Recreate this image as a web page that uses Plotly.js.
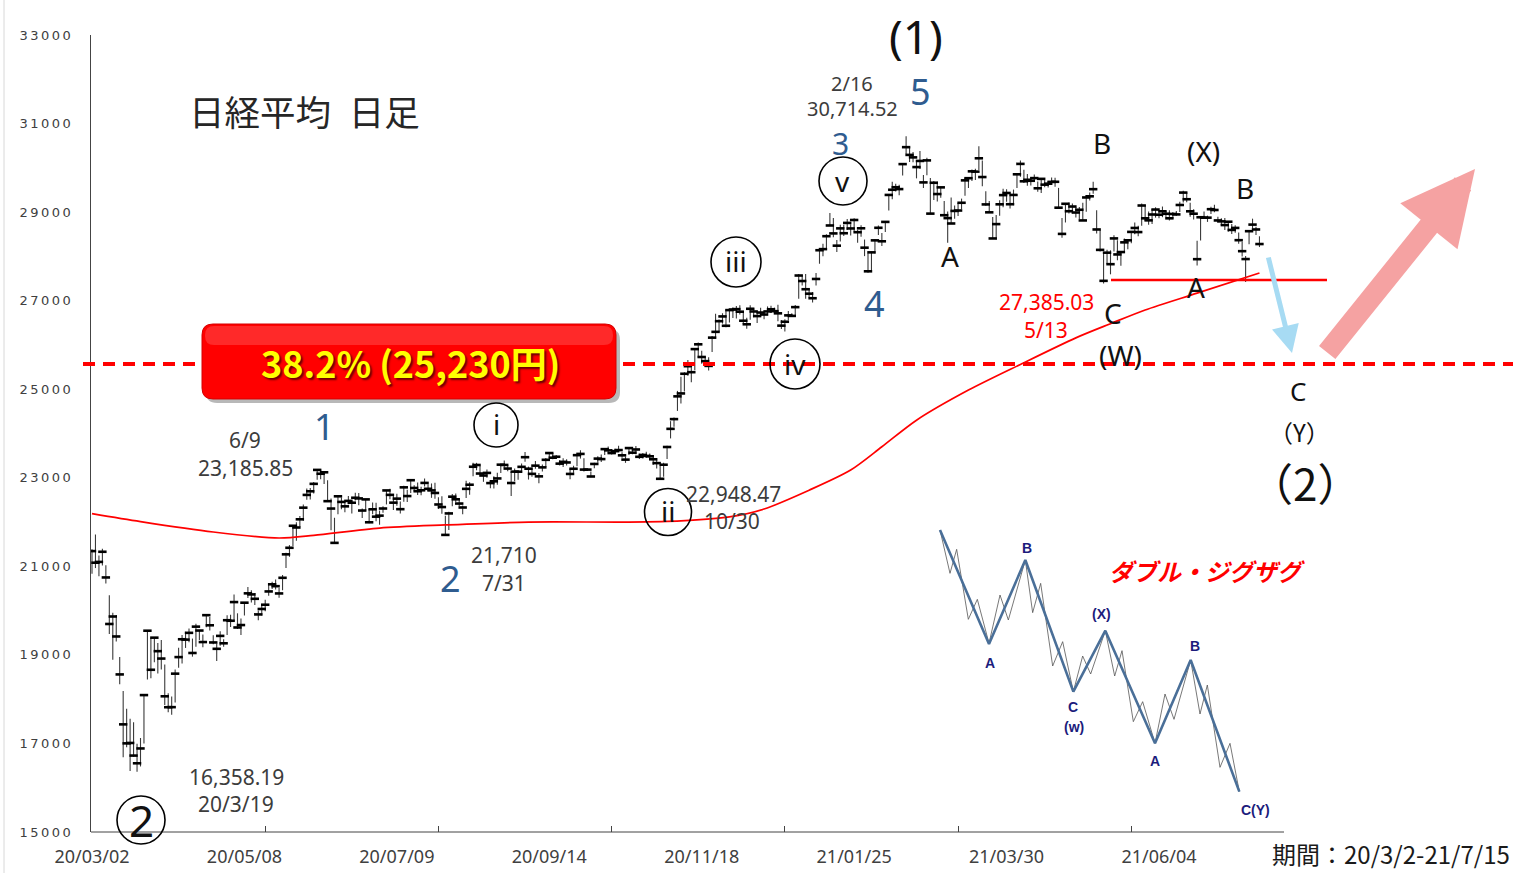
<!DOCTYPE html>
<html>
<head>
<meta charset="utf-8">
<script src="https://cdn.plot.ly/plotly-3.0.1.min.js"></script>
<style>
  html,body{margin:0;padding:0;background:#fff;}
  #chart{width:1515px;height:873px;}
  .ytick text{letter-spacing:2.5px;}
</style>
</head>
<body>
<div id="chart"></div>
<script>
// ---------------- DATA ----------------
// Trading days per month (day numbers)
const monthKeys = ["2020-03","2020-04","2020-05","2020-06","2020-07","2020-08","2020-09","2020-10","2020-11","2020-12",
                   "2021-01","2021-02","2021-03","2021-04","2021-05","2021-06","2021-07"];
const monthDays = [
 [2,3,4,5,6,9,10,11,12,13,16,17,18,19,23,24,25,26,27,30,31],
 [1,2,3,6,7,8,9,10,13,14,15,16,17,20,21,22,23,24,27,28,30],
 [1,7,8,11,12,13,14,15,18,19,20,21,22,25,26,27,28,29],
 [1,2,3,4,5,8,9,10,11,12,15,16,17,18,19,22,23,24,25,26,29,30],
 [1,2,3,6,7,8,9,10,13,14,15,16,17,20,21,22,27,28,29,30,31],
 [3,4,5,6,7,11,12,13,14,17,18,19,20,21,24,25,26,27,28,31],
 [1,2,3,4,7,8,9,10,11,14,15,16,17,18,23,24,25,28,29,30],
 [1,2,5,6,7,8,9,12,13,14,15,16,19,20,21,22,23,26,27,28,29,30],
 [2,4,5,6,9,10,11,12,13,16,17,18,19,20,24,25,26,27,30],
 [1,2,3,4,7,8,9,10,11,14,15,16,17,18,21,22,23,24,25,28,29,30],
 [4,5,6,7,8,12,13,14,15,18,19,20,21,22,25,26,27,28,29],
 [1,2,3,4,5,8,9,10,12,15,16,17,18,19,22,24,25,26],
 [1,2,3,4,5,8,9,10,11,12,15,16,17,18,19,22,23,24,25,26,29,30,31],
 [1,2,5,6,7,8,9,12,13,14,15,16,19,20,21,22,23,26,27,28,30],
 [6,7,10,11,12,13,14,17,18,19,20,21,24,25,26,27,28,31],
 [1,2,3,4,7,8,9,10,11,14,15,16,17,18,21,22,23,24,25,28,29,30],
 [1,2,5,6,7,8,9,12,13,14,15]
];

const closes = [
 21344,21082,21100,21329,20749,19698,19867,19416,18559,17431,17002,17011,16726,16552,16887,18092,19546,18664,19389,19084,18917,
 18065,17818,17820,18576,18950,19353,19345,19498,19043,19638,19550,19290,19897,19669,19281,19137,19429,19262,19783,19771,20193,
 19619,19674,20179,20390,20366,20267,19914,20037,20133,20433,20595,20552,20388,20741,21271,21419,21916,21877,
 22062,22325,22613,22695,22863,23178,23091,23124,22472,22305,21530,22582,22455,22355,22478,22437,22549,22534,22260,22512,21995,22288,
 22122,22145,22306,22714,22614,22438,22529,22291,22784,22587,22945,22770,22696,22717,22884,22751,22715,22657,22397,22339,21710,
 22195,22573,22514,22418,22329,22750,22843,23249,23289,23096,23051,23110,22880,22920,22985,23296,23290,23208,22882,23139,
 23138,23247,23465,23205,23089,23274,23032,23235,23406,23559,23454,23475,23319,23360,23346,23087,23204,23511,23539,23185,
 23185,23029,23312,23433,23422,23647,23619,23558,23601,23626,23507,23410,23671,23567,23639,23474,23516,23494,23485,23418,23331,22977,
 23295,23695,24105,24325,24839,24905,25349,25520,25385,25906,26014,25728,25634,25527,26165,26296,26537,26644,26433,
 26787,26800,26809,26751,26547,26467,26817,26756,26652,26732,26687,26757,26806,26763,26714,26436,26524,26668,26656,26854,27568,27444,
 27258,27158,27055,27490,28139,28164,28456,28698,28519,28242,28633,28523,28756,28631,28822,28546,28635,28197,27663,
 28091,28362,28646,28341,28779,29388,29505,29562,29520,30084,30467,30292,30236,30017,30156,29671,30168,28966,
 29663,29408,29559,28930,28864,28743,29027,29036,29211,29717,29766,29921,29914,30216,29792,29174,28995,28405,28729,29176,29384,29432,29178,
 29388,29854,30089,29696,29730,29708,29768,29538,29751,29620,29642,29683,29685,29100,28508,29188,29020,29126,28991,29053,28812,
 29331,29357,29518,28608,28147,27448,28084,27824,28406,28044,28098,28317,28364,28553,28642,28549,29149,28860,
 28814,28946,29058,28941,29019,28963,28860,28958,28948,29161,29441,29291,29018,28964,27937,28884,28874,28875,29066,29048,28812,28791,
 28707,28783,28598,28643,28366,28118,27940,28569,28718,28608,28279
];
const highs = [
 21383,21719,21245,21399,21025,20347,19954,19899,18950,18184,17785,17557,17481,16995,17123,18100,19564,19389,19389,19266,19336,
 18784,18132,18059,18672,19162,19452,19522,19597,19368,19706,19559,19458,19922,19858,19444,19259,19532,19352,19894,19907,20365,
 19939,19822,20180,20534,20459,20400,20001,20143,20247,20588,20650,20701,20517,20805,21307,21480,21929,21993,
 22138,22398,22757,22770,22907,23179,23186,23145,22946,22532,22097,22582,22552,22444,22590,22488,22663,22655,22307,22523,22296,22442,
 22437,22258,22359,22724,22752,22597,22639,22467,22821,22727,22963,22831,22893,22798,22985,22853,22872,22885,22560,22584,22140,
 22232,22635,22646,22502,22376,22932,22898,23338,23338,23269,23097,23188,22940,23035,23112,23302,23391,23284,23128,23207,
 23160,23321,23580,23252,23231,23380,23108,23299,23448,23582,23562,23513,23394,23442,23417,23208,23272,23525,23622,23441,
 23185,23139,23342,23486,23527,23674,23706,23644,23654,23725,23579,23481,23696,23675,23718,23541,23558,23590,23549,23485,23407,23274,
 23341,23725,24279,24363,24962,25279,25386,25662,25496,25907,26057,25868,25732,25722,26204,26706,26572,26716,26800,
 26787,26843,26880,26894,26743,26612,26894,26830,26763,26839,26726,26870,26884,26843,26905,26565,26580,26764,26715,26903,27602,27572,
 27602,27279,27196,27624,28139,28287,28498,28979,28867,28371,28712,28712,28846,28725,28860,28599,28701,28380,28073,
 28107,28385,28699,28530,28779,29388,29685,29640,29620,30092,30714,30467,30359,30169,30379,29837,30229,29769,
 29700,29685,29559,29253,29012,29329,29151,29208,29305,29773,29781,29965,29979,30485,30166,29470,29250,28890,28932,29267,29525,29514,29370,
 29509,29863,30167,29955,29859,29779,29848,29693,29755,29727,29702,29783,29778,29547,28869,29195,29215,29197,29115,29114,29210,
 29387,29443,29685,29040,28599,28100,28150,28138,28477,28367,28110,28405,28390,28575,28767,28690,29197,29169,
 29016,29072,29109,29040,29126,29024,29043,29004,29026,29234,29480,29442,29210,29067,28353,28889,29013,28920,29119,29165,28895,28864,
 28868,28783,28731,28701,28537,28332,28011,28569,28852,28671,28454
];
const lows = [
 20834,20961,20776,21020,20613,19474,18891,19300,18339,16690,16914,16378,16698,16358,16480,17000,18446,18472,18832,18578,18668,
 17871,17707,17646,17923,18709,18807,19157,19286,18960,19183,19336,19172,19625,19550,19242,18864,19205,19182,19451,19630,19747,
 19584,19448,19888,20283,20186,20128,19785,19887,19984,20335,20489,20477,20288,20460,20960,21215,21460,21575,
 21892,22029,22504,22508,22645,22958,22967,22860,22472,21813,21530,22177,22289,22223,22400,22195,22487,22381,22094,22253,21975,22177,
 22021,21940,22211,22398,22517,22272,22370,22194,22457,22454,22659,22692,22611,22607,22802,22699,22547,22528,22294,22190,21710,
 21821,22358,22454,22359,22175,22542,22616,23034,23169,23058,22909,22998,22762,22759,22844,23106,23227,23146,22587,22922,
 22953,23116,23362,22960,23021,23202,22878,23139,23250,23445,23420,23440,23277,23246,23275,22967,23111,23259,23434,23141,
 23185,23010,23213,23341,23355,23516,23569,23528,23535,23587,23451,23337,23515,23532,23531,23426,23435,23454,23434,23289,23210,22948,
 23024,23422,23889,24152,24510,24680,24951,25306,25155,25429,25713,25577,25505,25425,25839,26146,26298,26482,26402,
 26508,26606,26598,26688,26475,26365,26568,26627,26495,26636,26581,26701,26720,26718,26533,26362,26304,26557,26638,26664,27043,27340,
 27042,27073,26961,27340,27834,28004,28178,28695,28432,28099,28336,28459,28596,28469,28563,28309,28442,28006,27629,
 27692,28064,28485,28233,28550,29038,29292,29465,29378,29827,30312,30129,30128,29762,29973,29542,29835,28966,
 29276,29238,29325,28899,28308,28740,28851,28912,29064,29368,29544,29700,29726,29952,29586,29144,28984,28405,28379,28918,29108,29235,29084,
 29156,29543,29798,29655,29598,29601,29683,29462,29431,29564,29557,29613,29573,29096,28419,28766,28969,28976,28879,28837,28812,
 29010,29261,29415,28515,28110,27385,27830,27595,28109,27912,27789,28117,28163,28299,28501,28456,28690,28805,
 28715,28732,28875,28859,28885,28887,28812,28850,28915,29000,29217,29222,28898,28833,27795,28361,28850,28779,28958,28998,28771,28705,
 28595,28557,28503,28535,28283,27996,27419,28275,28627,28481,28211
];

// Moving average (red line)
const maDates = ["2020-03-02","2020-03-23","2020-04-21","2020-05-22","2020-06-05","2020-07-02","2020-07-31","2020-09-04",
  "2020-10-19","2020-11-10","2020-12-01","2020-12-15","2021-01-05","2021-01-22","2021-02-04","2021-02-19","2021-03-15",
  "2021-04-05","2021-04-27","2021-05-17","2021-05-31","2021-06-21","2021-07-15"];
const maValues = [22190,22010,21775,21640,21700,21865,21935,22000,
  22000,22025,22115,22295,22720,23175,23700,24300,24980,
  25560,26160,26480,26790,27170,27625];

// x-axis labels
const tickDates  = ["2020-03-02","2020-05-08","2020-07-09","2020-09-14","2020-11-18","2021-01-25","2021-03-30","2021-06-04"];
const tickLabels = ["20/03/02","20/05/08","20/07/09","20/09/14","20/11/18","21/01/25","21/03/30","21/06/04"];
const minorTickEvery = 50;   // trading days between tick marks
const yTicks = [15000,17000,19000,21000,23000,25000,27000,29000,31000,33000];

// Inset "double zigzag" illustration (local units)
const zzMainX = [60,207,316,460,556,705,812,958];
const zzMainY = [30,372,120,515,332,670,420,815];
const zzSubX = [60,90,110,145,172,207,240,265,316,338,362,398,428,460,488,512,556,584,606,640,668,705,735,762,812,840,862,900,930,958];
const zzSubY = [30,160,88,298,238,370,225,300,120,278,190,438,365,515,408,462,332,468,392,605,545,670,522,598,420,582,495,742,670,815];
const zzLabels = ["A","B","C","(w)","(X)","A","B","C(Y)"];
const zzLabelX = [210,322,460,462,543,705,825,1007];
const zzLabelY = [430,85,562,622,283,722,377,870];

// ---------------- BUILD ----------------
const dates = [];
monthKeys.forEach((m,i)=>monthDays[i].forEach(d=>dates.push(m+"-"+String(d).padStart(2,"0"))));
const idx = dates.map((d,i)=>i);

// plot geometry (px)
const L=91, T=35, W=1424, H=797;
const PXD = 1067/308;  // pixels per trading day
const PX = px => (px-L)/W;
const PY = py => (T+H-py)/H;
const FONT = "Noto Sans, Noto Sans CJK JP, sans-serif";
const CJK = "Noto Sans CJK JP, Noto Sans, sans-serif";

const traces = [
 {
  type:"scatter", mode:"markers", x:idx, y:closes, xaxis:"x", yaxis:"y",
  marker:{symbol:"line-ew", size:6, line:{width:2.6, color:"#000"}},
  error_y:{type:"data", symmetric:false,
    array: highs.map((h,i)=>h-closes[i]),
    arrayminus: lows.map((l,i)=>closes[i]-l),
    color:"#3a3a3a", thickness:1.1, width:0},
  hoverinfo:"skip", showlegend:false
 },
 {
  type:"scatter", mode:"lines", x:maDates.map(d=>dates.indexOf(d)), y:maValues,
  line:{color:"#ff0000", width:1.7, shape:"spline", smoothing:0.8},
  hoverinfo:"skip", showlegend:false
 },
 {
  type:"scatter", mode:"lines", x:zzSubX, y:zzSubY, xaxis:"x2", yaxis:"y2",
  line:{color:"#555", width:0.8}, hoverinfo:"skip", showlegend:false
 },
 {
  type:"scatter", mode:"lines", x:zzMainX, y:zzMainY, xaxis:"x2", yaxis:"y2",
  line:{color:"#4a6f98", width:2.6}, hoverinfo:"skip", showlegend:false
 }
];

function txt(text, px, py, size, color, opts){
  return Object.assign({text:text, xref:"paper", yref:"paper", x:PX(px), y:PY(py),
    xanchor:"center", yanchor:"middle", showarrow:false, borderpad:0,
    font:{family:FONT, size:size, color:color}}, opts||{});
}
const DARK="#3c3c3c", BLUE="#2f5c8f", BLK="#111";
const annotations = [
  txt("日経平均\u2002日足", 304, 110, 35.5, "#262626", {font:{family:CJK,size:35.5,color:"#262626"}}),
  txt("(1)", 916, 36, 46, BLK),
  txt("2/16", 852, 83, 20, DARK),
  txt("30,714.52", 852, 108, 20, DARK),
  txt("5", 921, 91, 36, BLUE),
  txt("3", 840, 143, 30, BLUE),
  txt("4", 874, 303, 36, BLUE),
  txt("1", 324, 427, 36, BLUE),
  txt("2", 450, 578, 36, BLUE),
  txt("v", 843, 181, 28, BLK),
  txt("iii", 736, 261, 28, BLK),
  txt("iv", 795, 364, 28, BLK),
  txt("i", 496, 424, 28, BLK),
  txt("ii", 668, 511, 28, BLK),
  txt("2", 141, 820, 44, BLK),
  txt("A", 950, 256, 28, BLK),
  txt("B", 1102, 143, 28, BLK),
  txt("(X)", 1203, 151, 28, BLK),
  txt("B", 1245, 188, 28, BLK),
  txt("A", 1196, 287, 28, BLK),
  txt("C", 1113, 313, 28, BLK),
  txt("(W)", 1120, 355, 28, BLK),
  txt("C", 1298, 391, 26, BLK),
  txt("（Y）", 1299, 432, 24, BLK, {font:{family:CJK,size:24,color:BLK}}),
  txt("（2）", 1305, 482, 44, BLK, {font:{family:CJK,size:44,color:BLK}}),
  txt("27,385.03", 1046, 302, 21, "#ff0000"),
  txt("5/13", 1046, 330, 21, "#ff0000"),
  txt("6/9", 245, 440, 21, DARK),
  txt("23,185.85", 245, 468, 21, DARK),
  txt("21,710", 504, 555, 21, DARK),
  txt("7/31", 504, 583, 21, DARK),
  txt("22,948.47", 733, 494, 21, DARK),
  txt("10/30", 732, 521, 21, DARK),
  txt("16,358.19", 236, 777, 21, DARK),
  txt("20/3/19", 236, 804, 21, DARK),
  txt("期間：20/3/2-21/7/15", 1511, 854, 24, "#1a1a1a", {xanchor:"right", font:{family:CJK,size:24,color:"#1a1a1a"}}),
  txt("38.2% (25,230円)", 410, 362, 36, "#ffff00",
      {font:{family:CJK,size:36,color:"#ffff00",weight:"bold",shadow:"2px 2px 2px rgba(80,0,0,0.85)"}}),
  // arrows
  {xref:"paper", yref:"paper", x:PX(1292), y:PY(353), ax:1268-1292, ay:256-353, axref:"pixel", ayref:"pixel",
   text:"", showarrow:true, arrowhead:2, arrowsize:1.1, arrowwidth:5, arrowcolor:"#a7dbf3", standoff:0},
  {xref:"paper", yref:"paper", x:PX(1475), y:PY(169), ax:1326-1475, ay:354-169, axref:"pixel", ayref:"pixel",
   text:"", showarrow:true, arrowhead:2, arrowsize:0.7, arrowwidth:21, arrowcolor:"#f5a2a2", standoff:0},
  // inset title
  {xref:"x2", yref:"y2", x:862, y:150, text:"<i>ダブル・ジグザグ</i>", showarrow:false, xanchor:"center", yanchor:"middle",
   font:{family:CJK, size:24, color:"#ff0000", weight:"bold"}}
];
zzLabels.forEach((t,i)=>annotations.push({xref:"x2", yref:"y2", x:zzLabelX[i], y:zzLabelY[i], text:"<b>"+t+"</b>",
  showarrow:false, xanchor:"center", yanchor:"middle", font:{family:"Liberation Sans, Arial, sans-serif", size:14, color:"#1c1c7c"}}));

function circ(cx, cy, r){
  return {type:"circle", xref:"paper", yref:"paper", x0:PX(cx-r), x1:PX(cx+r), y0:PY(cy+r), y1:PY(cy-r),
          line:{color:"#000", width:1.6}, fillcolor:"rgba(0,0,0,0)"};
}
function roundRect(x0,y0,x1,y1,r){
  const p=(x,y)=>PX(x).toFixed(5)+","+PY(y).toFixed(5);
  return "M"+p(x0+r,y0)+" L"+p(x1-r,y0)+" Q"+p(x1,y0)+" "+p(x1,y0+r)+" L"+p(x1,y1-r)+" Q"+p(x1,y1)+" "+p(x1-r,y1)+
         " L"+p(x0+r,y1)+" Q"+p(x0,y1)+" "+p(x0,y1-r)+" L"+p(x0,y0+r)+" Q"+p(x0,y0)+" "+p(x0+r,y0)+" Z";
}
const shapes = [
  // faint image frame line on the left
  {type:"line", xref:"paper", yref:"paper", x0:PX(4), x1:PX(4), y0:PY(873), y1:PY(0), line:{color:"#d8d8d8", width:1}},
  // x axis line
  {type:"line", xref:"paper", yref:"paper", x0:0, x1:PX(1284), y0:0, y1:0, line:{color:"#444", width:1}},
  // 38.2% retracement dashed line
  {type:"line", xref:"paper", yref:"paper", x0:PX(83), x1:PX(1513), y0:PY(364), y1:PY(364),
   line:{color:"#ff0000", width:4, dash:"12px,8px"}},
  // support line at 5/13 low
  {type:"line", xref:"paper", yref:"paper", x0:PX(1111), x1:PX(1327), y0:PY(280), y1:PY(280),
   line:{color:"#ff0000", width:2.6}},
  circ(843,181,24), circ(736,262,25), circ(795,364,25), circ(496,425,22), circ(668,512,23.5), circ(141,820,24),
  // red label box (shadow + box)
  {type:"path", xref:"paper", yref:"paper", path:roundRect(206,329,620,403,11), fillcolor:"rgba(0,0,0,0.28)", line:{width:0}},
  {type:"path", xref:"paper", yref:"paper", path:roundRect(202,324,616,399,11), fillcolor:"#ff0000", line:{color:"#d40000", width:1}},
  {type:"path", xref:"paper", yref:"paper", path:roundRect(205,326,613,345,9), fillcolor:"rgba(255,90,90,0.45)", line:{width:0}}
];

const layout = {
  width:1515, height:873,
  margin:{l:L, r:1515-L-W, t:T, b:873-T-H, pad:0},
  paper_bgcolor:"#ffffff", plot_bgcolor:"rgba(0,0,0,0)",
  showlegend:false, hovermode:false,
  xaxis:{
    range:[(L-92)/PXD, (L+W-92)/PXD], showgrid:false, zeroline:false, showline:false, automargin:false,
    tickmode:"array", tickvals:tickDates.map(d=>dates.indexOf(d)), ticktext:tickLabels, ticks:"",
    ticklabelstandoff:12,
    tickfont:{family:FONT, size:18, color:"#404040"},
    minor:{tickmode:"array", tickvals:idx.filter(i=>i>0 && i%minorTickEvery===0), ticks:"inside", ticklen:6, tickwidth:1, tickcolor:"#444", showgrid:false}
  },
  yaxis:{
    range:[15000,33000], showgrid:false, zeroline:false, showline:true, linecolor:"#444", linewidth:1,
    tickmode:"array", tickvals:yTicks, ticktext:yTicks.map(v=>String(v)), ticks:"", automargin:false, ticklabelstandoff:14,
    tickfont:{family:"DejaVu Sans, sans-serif", size:13, color:"#404040"}
  },
  xaxis2:{domain:[PX(920),PX(1320)], range:[0,1200], anchor:"y2", visible:false, fixedrange:true},
  yaxis2:{domain:[PY(820),PY(520)], range:[900,0], anchor:"x2", visible:false, fixedrange:true},
  shapes:shapes, annotations:annotations
};

Plotly.newPlot("chart", traces, layout, {displayModeBar:false, staticPlot:true});
</script>
</body>
</html>
